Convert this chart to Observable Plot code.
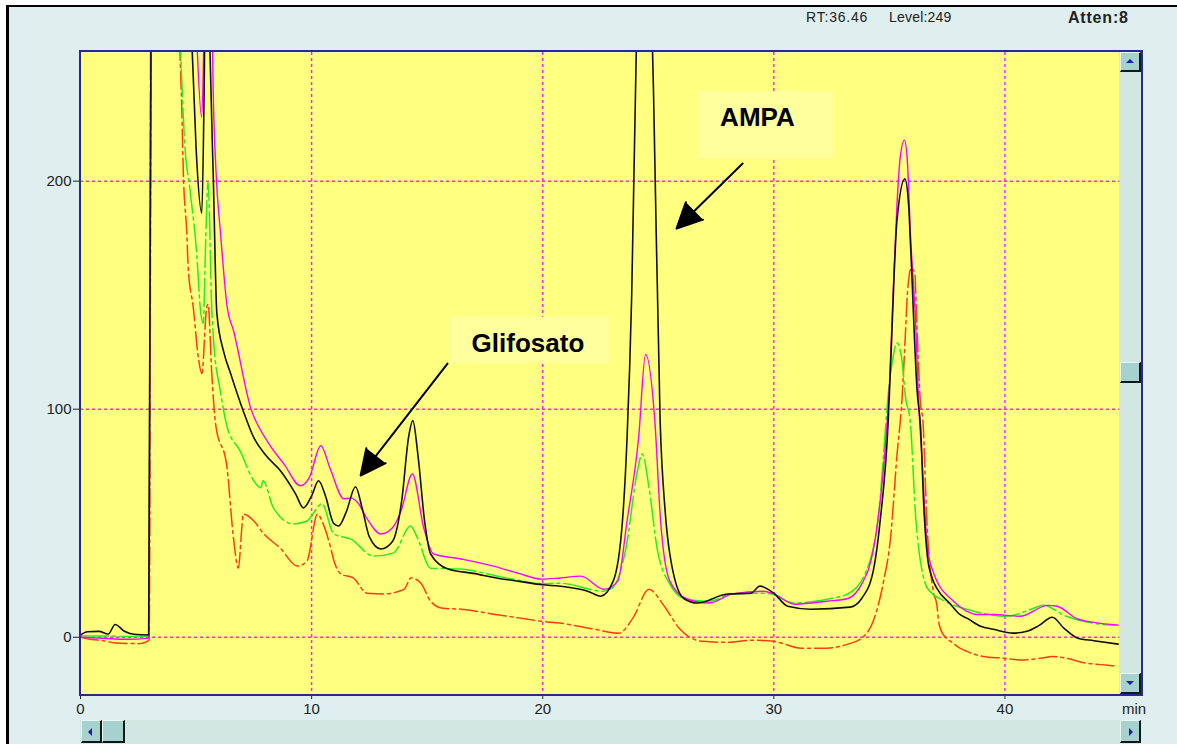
<!DOCTYPE html>
<html><head><meta charset="utf-8">
<script src="https://cdn.jsdelivr.net/npm/d3@7"></script>
<script src="https://cdn.jsdelivr.net/npm/@observablehq/plot@0.6"></script>
<style>
html,body{margin:0;padding:0;background:#fff;overflow:hidden;}
#wrap{position:relative;width:1177px;height:744px;font-family:Arial,"Liberation Sans",sans-serif;color:#222;}
#panel{position:absolute;left:6px;top:5px;width:1168px;height:739px;background:#dfeeee;border-top:2px solid #000;border-left:3px solid #000;}
#chart{position:absolute;left:0;top:0;}
.abs{position:absolute;}
#navy{left:79px;top:50px;width:1064px;height:646px;border:2px solid #2a2a8c;box-sizing:border-box;}
.track{background:#d2e6e2;}
.btn{background:#a6d2ce;box-sizing:border-box;border-top:1px solid #eaf6f4;border-left:1px solid #eaf6f4;border-right:2px solid #0d1a1a;border-bottom:2px solid #0d1a1a;}
.tri{position:absolute;width:0;height:0;}
</style></head>
<body>
<div id="wrap">
  <div id="panel"></div>
  <div id="chart"></div>
  <div class="abs" id="navy"></div>
  <div class="abs track" style="left:1119px;top:52px;width:22px;height:642px;"></div>
  <div class="abs btn" style="left:1120px;top:52px;width:21px;height:20px;"><div class="tri" style="left:5px;top:6px;border-left:4px solid transparent;border-right:4px solid transparent;border-bottom:4px solid #1a1aa0;"></div></div>
  <div class="abs btn" style="left:1120px;top:362px;width:21px;height:21px;"></div>
  <div class="abs btn" style="left:1120px;top:673px;width:21px;height:21px;"><div class="tri" style="left:5px;top:7px;border-left:4px solid transparent;border-right:4px solid transparent;border-top:4px solid #1a1aa0;"></div></div>
  <div class="abs track" style="left:80px;top:720px;width:1061px;height:24px;"></div>
  <div class="abs btn" style="left:81px;top:720px;width:21px;height:23px;"><div class="tri" style="left:6px;top:7px;border-top:4px solid transparent;border-bottom:4px solid transparent;border-right:4px solid #1a1aa0;"></div></div>
  <div class="abs btn" style="left:102px;top:720px;width:23px;height:23px;"></div>
  <div class="abs btn" style="left:1120px;top:720px;width:21px;height:23px;"><div class="tri" style="left:8px;top:7px;border-top:4px solid transparent;border-bottom:4px solid transparent;border-left:4px solid #1a1aa0;"></div></div>
  <div class="abs" style="left:806px;top:9px;font-size:14px;letter-spacing:0.8px;white-space:nowrap;">RT:36.46</div>
  <div class="abs" style="left:889px;top:9px;font-size:14px;letter-spacing:0.2px;white-space:nowrap;">Level:249</div>
  <div class="abs" style="left:1068px;top:9px;font-size:16px;font-weight:bold;letter-spacing:0.8px;white-space:nowrap;">Atten:8</div>
  <div class="abs" style="left:1122px;top:700px;font-size:15px;white-space:nowrap;">min</div>
</div>
<script>
// ---- data (retention time in min, detector response) ----
const blackT = [0.0,0.3,0.8,1.2,1.5,1.9,2.3,2.95,3.1,4.0,4.7,4.83,5.0,5.25,5.35,5.42,5.52,5.6,5.75,5.9,6.2,6.5,7.04,7.5,8.0,8.65,9.3,9.65,10.0,10.3,10.6,10.95,11.17,11.5,11.9,12.2,12.5,13.0,13.5,13.9,14.2,14.38,14.6,14.9,15.15,15.9,17.0,18.0,19.0,20.0,20.75,22.0,22.5,23.05,23.45,23.65,23.85,24.05,24.35,24.75,24.8,25.08,25.3,25.5,26.1,26.7,28.0,29.0,29.4,30.0,30.6,31.6,33.3,33.8,34.3,34.6,34.95,35.07,35.33,35.67,35.83,35.92,36.2,36.35,36.5,36.65,36.85,37.05,37.65,38.05,38.35,38.95,39.5,40.35,40.95,41.45,42.05,42.55,43.15,43.85,44.9];
const blackY = [1.0,2.4,2.6,1.4,5.6,2.6,1.3,1.0,400,600,300,258,215,186,240,300,300,258,200,142,125,115.5,99.3,87.5,80,73,63,56.7,62,68.6,62,50,48.8,55,66,56,44,38.7,42,60,88,95,80,50,36.5,29.9,28,26,24.5,23,22.4,20,18,24.6,51,87.5,150,258,330,258,236,95,55,36.5,17,15,19,19.3,22.4,19.3,13.6,12.3,13.2,17,29,51,95,124,183,201,190,171,108,92,55,35,26,21.5,14.5,10,8.4,4.8,3.5,1.8,2.6,5,8.8,4,-0.4,-1.5,-3];

const magentaT = [0.0,1.0,2.0,2.9,2.95,3.1,4.9,5.05,5.24,5.33,5.42,5.65,5.74,5.86,6.06,6.35,6.62,7.36,8.08,8.8,9.52,9.9,10.4,10.8,11.4,11.7,12.0,12.4,13.0,13.5,13.87,14.36,14.85,15.28,16.47,17.95,18.95,19.95,20.75,21.65,22.65,23.25,23.65,24.15,24.45,24.85,25.1,25.5,26.2,27.2,28.2,29.55,30.0,30.9,32.3,33.2,33.8,34.2,34.5,34.85,35.0,35.17,35.33,35.47,35.65,35.77,35.92,36.13,36.27,36.4,36.65,36.93,37.75,38.35,38.75,39.5,40.65,41.85,42.25,43.15,43.85,44.9];
const magentaY = [0.0,-0.5,-0.9,-0.5,0,400,300,258,228,258,320,300,240,205,177,144.6,134.5,100.7,86,76,66.4,70,84,74,60.7,61,59,52,45.3,48,55.4,71.6,48,36.5,34.3,31,28,25.5,26,26.8,21,24.6,51,87.5,124,95,51,24.6,17,15,19,20.2,19,14.5,15.8,17,23.3,33.4,51,87,110,153,190,210.5,218,210,175,139,102,80,39,27.7,16,11.4,10,10,9.2,14,13.6,8,6.5,5.3];

const greenT = [0.0,1.0,2.0,2.95,3.08,4.2,4.33,4.5,4.74,5.04,5.18,5.31,5.42,5.52,5.58,5.66,5.76,6.05,6.35,6.9,7.5,7.8,7.9,8.35,9.2,9.8,10.45,10.96,11.7,12.68,13.55,14.28,14.58,15.15,16.45,17.95,18.95,19.95,20.75,22.6,23.0,23.6,24.1,24.3,24.6,24.95,25.5,26.2,27.2,28.2,29.7,30.9,32.3,33.2,34.0,34.5,35.05,35.33,35.55,35.7,35.9,36.15,36.65,37.4,38.35,40.05,41.25,41.65,42.65,44.15,44.85];
const greenY = [0.5,0.6,0.3,0.5,400,300,258,218,196,166.6,144.6,137.6,175,200,185,150,130,108,92,81.8,68.6,65.5,68.6,56.7,49.7,51,58.5,45.3,43,35.6,37,48.8,43.5,30.3,29.9,27,25,23.5,23.7,20.2,21.5,39,73,80.4,65.5,39,23.3,16.7,15.8,19,19.3,15,16.7,19,29,51,115.6,129,121,105,95,51,21.5,15.8,12.3,9.2,12.7,14,9.2,5.7,5.3];

const redT = [0.0,0.5,1.0,1.5,2.5,2.85,2.97,3.1,4.2,4.3,4.38,4.45,4.6,4.66,4.88,5.1,5.25,5.46,5.52,5.68,5.84,6.34,6.6,6.83,6.98,7.04,7.5,7.9,8.65,9.38,9.8,10.25,10.5,10.83,10.97,11.27,11.8,12.4,13.1,14.0,14.3,14.73,15.15,15.68,16.47,17.95,18.95,19.95,20.75,22.25,23.3,23.9,24.6,25.2,25.9,26.9,28.0,29.0,30.0,31.2,32.3,33.2,33.8,34.3,34.75,35.05,35.33,35.55,35.7,35.78,35.95,36.1,36.16,36.35,36.45,36.62,36.9,37.05,37.15,37.45,37.65,38.05,38.35,39.05,39.95,40.65,41.55,42.05,42.65,43.55,44.15,44.85];
const redY = [0,-1,-1.5,-2.5,-2.8,-2,-1,400,300,258,232.5,203.5,177,162,144.6,122.6,115.6,144.6,146,115.6,94,74.3,45.3,30.3,48,54,51,45.7,39,31.2,33.4,54,49.7,39,33.4,27.7,26,19.3,19,21,26,23.7,15.8,12.7,12.3,10,8.5,7,6.2,3.5,1.8,8.4,21,14.5,4,-1.8,-2.2,-1.3,-1.8,-4.8,-4.8,-3,-0.4,7,24.6,43.5,80,105,134.5,150.8,162,159.6,144.6,102,95,51,20,14.5,5.7,-0.4,-1.8,-4.8,-6.2,-8.4,-9.2,-10,-9.2,-8.4,-9.2,-11.4,-12,-12.7];

const xTicks = [0, 10, 20, 30, 40];
const yTicks = [0, 100, 200];
const xGrid = [10, 20, 30, 40];
const yGrid = [0, 100, 200];

const labelText = ["Glifosato", "AMPA"];
const labelX = [19.36, 29.29];
const labelY = [128.9, 227.9];
const boxX1 = [16.01, 26.75];
const boxX2 = [22.93, 32.6];
const boxY1 = [120.0, 210.0];
const boxY2 = [140.3, 239.3];
const arrowX1 = [15.88, 28.65];
const arrowY1 = [120.0, 207.7];
const arrowX2 = [12.12, 25.79];
const arrowY2 = [70.9, 179.2];

// ---- build tables ----
const toRows = (T, Y) => T.map((t, i) => ({t, v: Y[i]}));
const black = toRows(blackT, blackY);
const magenta = toRows(magentaT, magentaY);
const green = toRows(greenT, greenY);
const red = toRows(redT, redY);
const notes = labelText.map((s, i) => ({
  s, x: labelX[i], y: labelY[i],
  bx1: boxX1[i], bx2: boxX2[i], by1: boxY1[i], by2: boxY2[i],
  ax1: arrowX1[i], ay1: arrowY1[i], ax2: arrowX2[i], ay2: arrowY2[i]
}));

const curve = "monotone-x";
const chart = Plot.plot({
  width: 1177,
  height: 744,
  marginLeft: 80,
  marginRight: 57,
  marginTop: 52,
  marginBottom: 50,
  style: {background: "transparent", fontFamily: "Arial, 'Liberation Sans', sans-serif", fontSize: "15px", color: "#222"},
  x: {domain: [0, 45], ticks: xTicks, tickSize: 5, tickPadding: 4, label: null},
  y: {domain: [-25.1, 256.4], ticks: yTicks, tickSize: 7, tickPadding: 2, label: null},
  marks: [
    Plot.frame({fill: "#ffff80", stroke: null}),
    Plot.ruleX(xGrid, {stroke: "#ff22ff", strokeWidth: 1.5, strokeDasharray: "3,3"}),
    Plot.ruleY(yGrid, {stroke: "#ff22ff", strokeWidth: 1.5, strokeDasharray: "3,3"}),
    Plot.rect(notes, {x1: "bx1", x2: "bx2", y1: "by1", y2: "by2", fill: "#ffff9e"}),
    Plot.line(red, {x: "t", y: "v", curve, stroke: "#ff3c14", strokeWidth: 1.5, strokeDasharray: "18,4,3,4", clip: true}),
    Plot.line(green, {x: "t", y: "v", curve, stroke: "#22ee22", strokeWidth: 1.5, strokeDasharray: "28,4,3,4", clip: true}),
    Plot.line(magenta, {x: "t", y: "v", curve, stroke: "#ff00ff", strokeWidth: 1.4, clip: true}),
    Plot.line(black, {x: "t", y: "v", curve, stroke: "#111", strokeWidth: 1.6, clip: true}),
    Plot.arrow(notes, {x1: "ax1", y1: "ay1", x2: "ax2", y2: "ay2", stroke: "#000", fill: "#000", strokeWidth: 2, headLength: 21, headAngle: 52}),
    Plot.text(notes, {x: "x", y: "y", text: "s", fontSize: 26, fontWeight: "bold", fill: "#000", textAnchor: "middle", lineAnchor: "middle", fontFamily: "Arial, 'Liberation Sans', sans-serif"})
  ]
});
document.getElementById("chart").appendChild(chart);
</script>
</body></html>
